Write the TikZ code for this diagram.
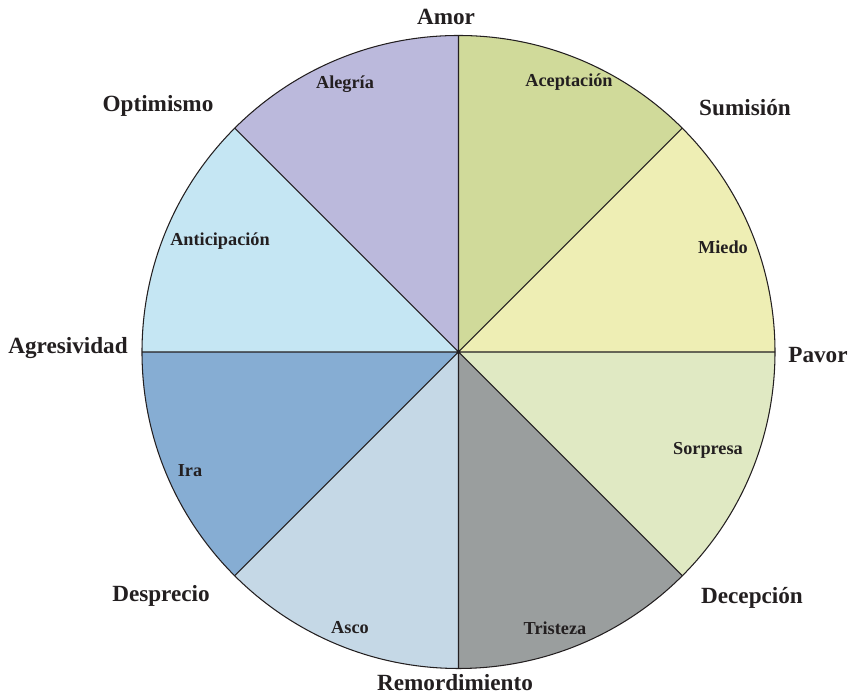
\documentclass[tikz,border=0pt]{standalone}
\usepackage{fontspec}
\setmainfont{Liberation Serif}
\usetikzlibrary{positioning}
\definecolor{acep}{RGB}{208,218,154}
\definecolor{miedo}{RGB}{238,238,180}
\definecolor{sorp}{RGB}{224,233,195}
\definecolor{trist}{RGB}{154,158,158}
\definecolor{asco}{RGB}{197,216,230}
\definecolor{ira}{RGB}{134,173,211}
\definecolor{antic}{RGB}{197,230,243}
\definecolor{aleg}{RGB}{187,185,220}
\definecolor{ink}{RGB}{35,31,32}
\tikzstyle{outer}=[text=ink,font=\fontsize{13.2}{15}\selectfont\bfseries,inner sep=0pt]
\tikzstyle{inner}=[text=ink,font=\fontsize{10.4}{12}\selectfont\bfseries,inner sep=0pt]
\tikzset{every picture/.style={line width=0.6pt}}
\begin{document}
\begin{tikzpicture}[x=0.02cm,y=0.02cm]
\useasboundingbox (0,0) rectangle (850,696);
\coordinate (O) at (458.5,344);
% sectors
\fill[acep] (O) -- ++(90:316.5) arc[start angle=90,end angle=45,radius=316.5] -- cycle;
\fill[miedo] (O) -- ++(45:316.5) arc[start angle=45,end angle=0,radius=316.5] -- cycle;
\fill[sorp] (O) -- ++(0:316.5) arc[start angle=0,end angle=-45,radius=316.5] -- cycle;
\fill[trist] (O) -- ++(-45:316.5) arc[start angle=-45,end angle=-90,radius=316.5] -- cycle;
\fill[asco] (O) -- ++(-90:316.5) arc[start angle=-90,end angle=-135,radius=316.5] -- cycle;
\fill[ira] (O) -- ++(-135:316.5) arc[start angle=-135,end angle=-180,radius=316.5] -- cycle;
\fill[antic] (O) -- ++(180:316.5) arc[start angle=180,end angle=135,radius=316.5] -- cycle;
\fill[aleg] (O) -- ++(135:316.5) arc[start angle=135,end angle=90,radius=316.5] -- cycle;
\draw[ink] (O) circle (316.5);
\draw[ink] (O) -- ++(0:316.5) (O) -- ++(45:316.5) (O) -- ++(90:316.5) (O) -- ++(135:316.5)
(O) -- ++(180:316.5) (O) -- ++(225:316.5) (O) -- ++(270:316.5) (O) -- ++(315:316.5);
% outer labels
\node[outer] (amor) at (446,679) {Amor};
\node[outer] (sumi) at (745,588) {Sumisión};
\node[outer] (pavor) at (818,341) {Pavor};
\node[outer] (decep) at (752,98) {Decepción};
\node[outer] (remor) at (455,13) {Remordimiento};
\node[outer] (despr) at (161,100) {Desprecio};
\node[outer] (agres) at (68,348) {Agresividad};
\node[outer] (optim) at (158,590) {Optimismo};
% inner labels
\node[inner] (acept) at (569,614) {Aceptación};
\node[inner] (miedo) at (723,449) {Miedo};
\node[inner] (sorpr) at (708,246) {Sorpresa};
\node[inner] (trist) at (555,68) {Tristeza};
\node[inner] (asco) at (350,68) {Asco};
\node[inner] (ira) at (190,225) {Ira};
\node[inner] (antic) at (220,455) {Anticipación};
\node[inner] (alegr) at (345,612) {Alegría};
\end{tikzpicture}
\end{document}
